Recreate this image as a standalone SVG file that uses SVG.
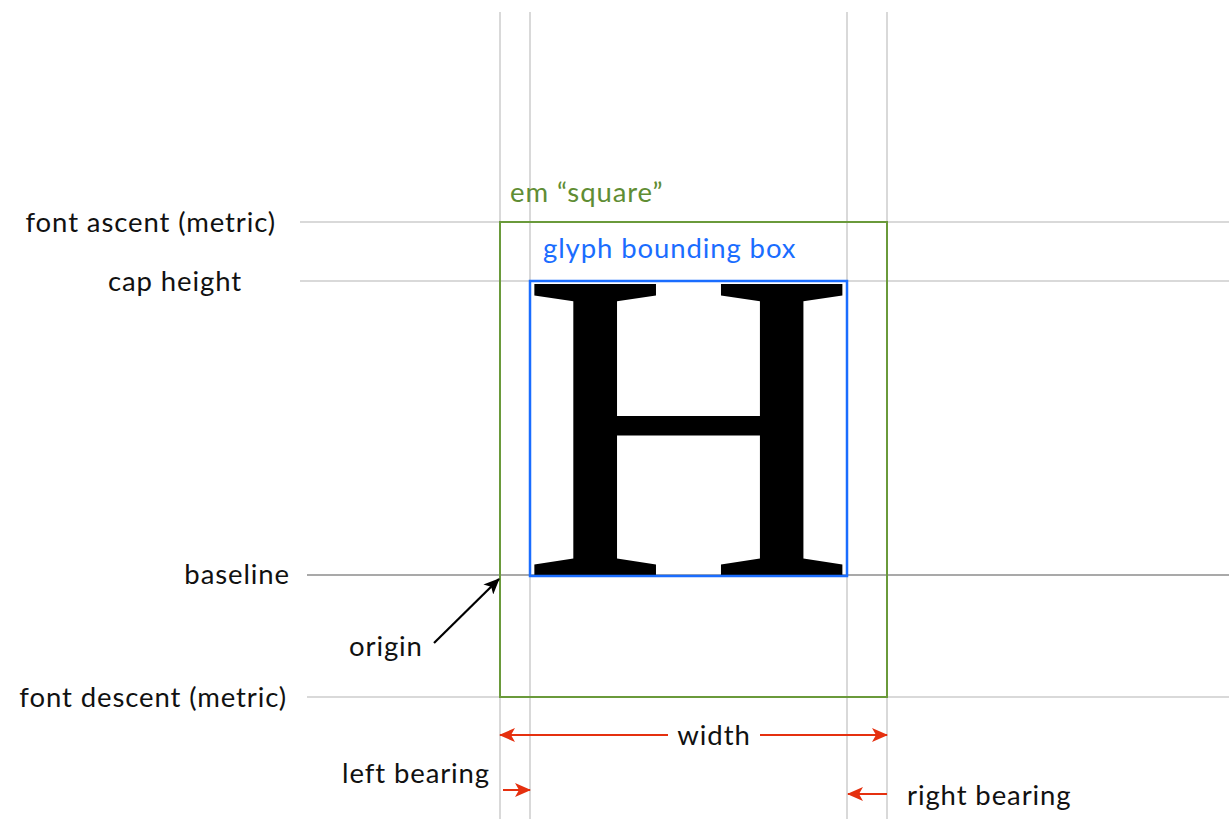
<svg xmlns="http://www.w3.org/2000/svg" width="1229" height="819" viewBox="0 0 1229 819">
<style>
.grid{stroke:#d9d9d9;stroke-width:2;fill:none}
.base{stroke:#a9a9a9;stroke-width:2;fill:none}
.lbl{font-family:Lato,"Open Sans","Liberation Sans",sans-serif;font-size:27.5px;letter-spacing:0.9px;fill:#111}
.red{stroke:#e5300f;stroke-width:2;fill:none}
</style>
<defs>
<marker id="ar" viewBox="0 0 16 14" refX="15" refY="7" markerWidth="16" markerHeight="14" markerUnits="userSpaceOnUse" orient="auto">
<path d="M0,0 L16,7 L0,14 L4,7 z" fill="#e5300f"/>
</marker>
<marker id="ak" viewBox="0 0 16 14" refX="15" refY="7" markerWidth="16" markerHeight="14" markerUnits="userSpaceOnUse" orient="auto">
<path d="M0,0 L16,7 L0,14 L4,7 z" fill="#000"/>
</marker>
</defs>
<rect width="1229" height="819" fill="#fff"/>
<g id="guides">
<line class="grid" x1="500" y1="12" x2="500" y2="819"/>
<line class="grid" x1="530" y1="12" x2="530" y2="819"/>
<line class="grid" x1="847" y1="12" x2="847" y2="819"/>
<line class="grid" x1="887" y1="12" x2="887" y2="819"/>
<line class="grid" x1="300" y1="222" x2="1229" y2="222"/>
<line class="grid" x1="300" y1="281" x2="1229" y2="281"/>
<line class="base" x1="307" y1="575" x2="1229" y2="575"/>
<line class="grid" x1="307" y1="697" x2="1229" y2="697"/>
</g>
<g id="glyph">
<text transform="translate(521,576) scale(1.04,1)" font-family="'Liberation Serif',serif" font-size="446" fill="#000">H</text>
</g>
<g id="em-square">
<rect x="500" y="222" width="387" height="475" fill="none" stroke="#6a9a3b" stroke-width="2"/>
<text x="510" y="202" class="lbl" style="fill:#5f8d34">em “square”</text>
</g>
<g id="bbox">
<rect x="530" y="281" width="317" height="295" fill="none" stroke="#1a6dff" stroke-width="2.5"/>
<text x="543" y="258" class="lbl" style="fill:#1a6dff">glyph bounding box</text>
</g>
<g id="labels">
<text x="276" y="232" class="lbl" text-anchor="end">font ascent (metric)</text>
<text x="242" y="291" class="lbl" text-anchor="end">cap height</text>
<text x="290" y="584" class="lbl" text-anchor="end">baseline</text>
<text x="349" y="656" class="lbl">origin</text>
<text x="287" y="707" class="lbl" text-anchor="end">font descent (metric)</text>
<text x="714" y="745" class="lbl" text-anchor="middle">width</text>
<text x="342" y="783" class="lbl">left bearing</text>
<text x="907" y="805" class="lbl">right bearing</text>
</g>
<g id="connectors">
<line class="red" x1="668" y1="735" x2="500" y2="735" marker-end="url(#ar)"/>
<line class="red" x1="760" y1="735" x2="887" y2="735" marker-end="url(#ar)"/>
<line class="red" x1="503" y1="790" x2="530" y2="790" marker-end="url(#ar)"/>
<line class="red" x1="887" y1="794" x2="848" y2="794" marker-end="url(#ar)"/>
<line x1="434" y1="643" x2="499" y2="579" stroke="#000" stroke-width="2.2" marker-end="url(#ak)"/>
</g>
</svg>
